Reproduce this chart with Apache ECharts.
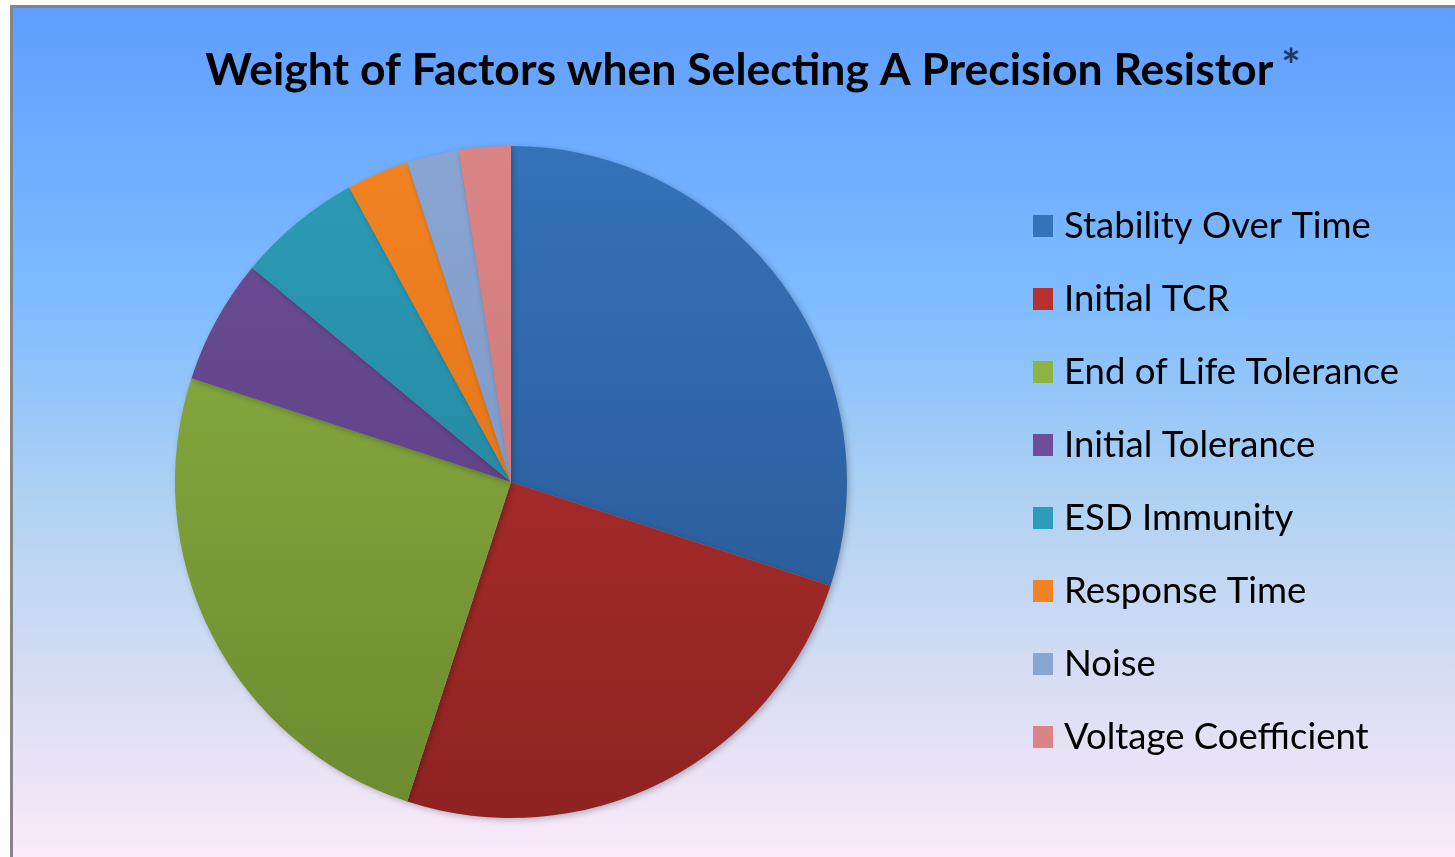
<!DOCTYPE html>
<html><head><meta charset="utf-8">
<script src="https://cdn.jsdelivr.net/npm/echarts@6/dist/echarts.min.js"></script>
<style>html,body{margin:0;padding:0;background:#fff;}#c{width:1455px;height:857px;}</style>
</head><body><div id="c"></div>
<script>
const categories = ["Stability Over Time","Initial TCR","End of Life Tolerance","Initial Tolerance","ESD Immunity","Response Time","Noise","Voltage Coefficient"];
const values = [30, 25, 25, 6, 6, 3, 2.5, 2.5];
const titleText = "Weight of Factors when Selecting A Precision Resistor";
const colorTop = ["#3572b8","#b7322f","#8fb343","#6d4e98","#2c9cb8","#f28322","#89a5d2","#d98586"];
const colorBot = ["#27548f","#8e2322","#6c8a2f","#553a78","#227a92","#d86c14","#7891bd","#c77273"];

const chart = echarts.init(document.getElementById('c'), null, {renderer:'canvas'});
function grad(t,b){return new echarts.graphic.LinearGradient(0,146,0,818,[{offset:0,color:t},{offset:1,color:b}],true);}
chart.setOption({
  backgroundColor:'#ffffff',
  animation:false,
  graphic:[
    {type:'rect',z:-10,shape:{x:10,y:5,width:1445,height:852},style:{fill:new echarts.graphic.LinearGradient(0,0,0,1,[
      {offset:0,color:'#5e9eff'},{offset:0.35,color:'#7fbcff'},{offset:0.6,color:'#b3d3f2'},{offset:0.85,color:'#e2e0f4'},{offset:1,color:'#fbeafa'}])}},
    {type:'rect',z:-9,shape:{x:10,y:5,width:1445,height:3},style:{fill:'#858585'}},
    {type:'rect',z:-9,shape:{x:10,y:5,width:3,height:852},style:{fill:'#858585'}}
  ],
  title:{
    text:'{a|'+titleText+'}{s|*}',
    left:748, textAlign:'center', top:39,
    textStyle:{rich:{
      a:{fontFamily:'Lato',fontWeight:'bold',fontSize:44.5,color:'#000',lineHeight:54},
      s:{fontFamily:'Lato',fontWeight:'bold',fontSize:46,color:'#1f3864',lineHeight:54,verticalAlign:'top',padding:[0,0,12,8]}
    }}
  },
  legend:{
    orient:'vertical', left:1033, top:206, padding:0,
    itemWidth:20, itemHeight:22, itemGap:33, icon:'rect',
    textStyle:{fontFamily:'Lato',fontSize:36.5,color:'#000',lineHeight:40,padding:[0,0,0,6]},
    data:categories
  },
  series:[{
    type:'pie', center:[511,482], radius:336, startAngle:90, clockwise:true,
    label:{show:false}, labelLine:{show:false}, silent:true,
    itemStyle:{borderWidth:0, shadowBlur:6, shadowColor:'rgba(0,0,0,0.25)', shadowOffsetX:2, shadowOffsetY:2},
    data:categories.map((n,i)=>({name:n,value:values[i],itemStyle:{color:grad(colorTop[i],colorBot[i])}}))
  }]
});
</script></body></html>
